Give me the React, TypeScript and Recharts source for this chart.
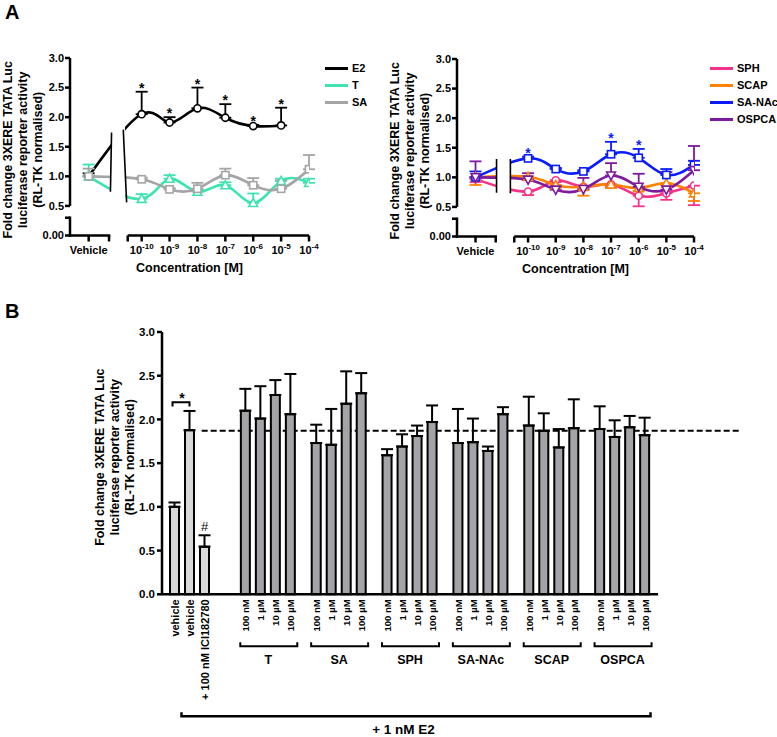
import React from "react";
import {
  ComposedChart,
  Line,
  XAxis,
  YAxis,
  ErrorBar,
  ReferenceLine,
  ReferenceArea,
  BarChart,
  Bar,
  Cell,
  LabelList,
} from "recharts";

const FONT = "'Liberation Sans', Arial, Helvetica, sans-serif";

// ---------- panel A: concentration-response (log10 M) ----------
const VEHICLE_X = -11.9; // vehicle sits left of the x-axis break
const EXPONENTS = [-10, -9, -8, -7, -6, -5, -4];

// index 0 = vehicle, then 1e-10 ... 1e-4 M
const e2Mean = [1.0, 2.05, 1.91, 2.15, 1.99, 1.85, 1.86, null];
const e2Sem = [0.05, 0.38, 0.09, 0.35, 0.23, 0.02, 0.3, null];
const e2Sig = [0, 1, 1, 1, 1, 1, 1, 0];

const tMean = [1.0, 0.62, 0.96, 0.74, 0.85, 0.55, 0.92, 0.89];
const tSem = [0.2, 0.08, 0.06, 0.03, 0.05, 0.16, 0.04, 0.07];

const saMean = [1.0, 0.95, 0.78, 0.79, 1.02, 0.85, 0.79, 1.12];
const saSem = [0.13, 0.03, 0.02, 0.1, 0.11, 0.12, 0.14, 0.24];

const sphMean = [0.97, 0.76, 0.95, 0.84, 0.88, 0.69, 0.73, 0.86];
const sphSem = [0.05, 0.06, 0.03, 0.05, 0.03, 0.18, 0.11, 0.33];

const scapMean = [1.0, 1.01, 0.87, 0.84, 0.88, 0.82, 0.9, 0.73];
const scapSem = [0.13, 0.02, 0.03, 0.15, 0.06, 0.05, 0.03, 0.13];

const sanacMean = [1.0, 1.32, 1.14, 1.1, 1.39, 1.33, 1.04, 1.21];
const sanacSem = [0.1, 0.03, 0.02, 0.02, 0.21, 0.15, 0.1, 0.07];
const sanacSig = [0, 1, 0, 0, 1, 1, 0, 0];

const ospcaMean = [1.0, 0.96, 0.79, 0.8, 1.03, 0.84, 0.79, 1.12];
const ospcaSem = [0.27, 0.11, 0.05, 0.19, 0.21, 0.22, 0.3, 0.41];

// ---------- panel B: bars ----------
const CONTROL_LABELS = ["vehicle", "vehicle", "+ 100 nM ICI182780"];
const controlMean = [1.0, 1.877, 0.545];
const controlSem = [0.05, 0.22, 0.13];

const GROUPS = ["T", "SA", "SPH", "SA-NAc", "SCAP", "OSPCA"];
const CONC_LABELS = ["100 nM", "1 µM", "10 µM", "100 µM"];
const bT = [2.1, 2.01, 2.28, 2.06];
const bTSem = [0.25, 0.37, 0.17, 0.46];
const bSA = [1.73, 1.71, 2.18, 2.3];
const bSASem = [0.21, 0.41, 0.37, 0.23];
const bSPH = [1.59, 1.69, 1.81, 1.97];
const bSPHSem = [0.07, 0.14, 0.12, 0.19];
const bSANAc = [1.73, 1.74, 1.64, 2.06];
const bSANAcSem = [0.39, 0.27, 0.05, 0.08];
const bSCAP = [1.93, 1.87, 1.68, 1.9];
const bSCAPSem = [0.33, 0.2, 0.21, 0.33];
const bOSPCA = [1.89, 1.8, 1.91, 1.82];
const bOSPCASem = [0.26, 0.19, 0.13, 0.2];
const E2_LEVEL = 1.87;

// ---------- layout constants ----------
const X_MIN = -12.57;
const BREAK_L = -11.17;
const BREAK_R = -10.5;
const BAR_SIZE = 9;
const BAR_GAP = 6;
const SLOT = BAR_SIZE + BAR_GAP;
const AXIS = { stroke: "#000", strokeWidth: 2.5 };

type Spec = {
  key: string;
  name: string;
  mean: (number | null)[];
  sem: (number | null)[];
  color: string;
  shape: "circle" | "square" | "up" | "down";
  down?: boolean;
  sig?: number[];
};

const leftSpecs: Spec[] = [
  { key: "e2", name: "E2", mean: e2Mean, sem: e2Sem, color: "#000000", shape: "circle", sig: e2Sig },
  { key: "t", name: "T", mean: tMean, sem: tSem, color: "#3fe3b2", shape: "up" },
  { key: "sa", name: "SA", mean: saMean, sem: saSem, color: "#a5a5a5", shape: "square" },
];

const rightSpecs: Spec[] = [
  { key: "sph", name: "SPH", mean: sphMean, sem: sphSem, color: "#f5318a", shape: "circle", down: true },
  { key: "scap", name: "SCAP", mean: scapMean, sem: scapSem, color: "#ff8200", shape: "up", down: true },
  { key: "sanac", name: "SA-NAc", mean: sanacMean, sem: sanacSem, color: "#0a1cff", shape: "square", sig: sanacSig },
  { key: "ospca", name: "OSPCA", mean: ospcaMean, sem: ospcaSem, color: "#7d1a9e", shape: "down" },
];

function buildRows(specs: Spec[]) {
  return [VEHICLE_X, ...EXPONENTS].map((x, i) => {
    const row: any = { x };
    specs.forEach((s) => {
      const m = s.mean[i];
      const e = s.sem[i];
      row[s.key] = m;
      row[s.key + "Err"] = m == null || e == null ? null : s.down ? [e, 0] : [0, e];
      if (s.sig) {
        row[s.key + "Star"] = s.sig[i] && m != null ? m + (e ?? 0) + 0.11 : null;
      }
    });
    return row;
  });
}

const leftRows = buildRows(leftSpecs);
const rightRows = buildRows(rightSpecs);

const bGroupMeans = [bT, bSA, bSPH, bSANAc, bSCAP, bOSPCA];
const bGroupSems = [bTSem, bSASem, bSPHSem, bSANAcSem, bSCAPSem, bOSPCASem];

const barRows = [
  { group: "control", vals: controlMean, sems: controlSem },
  ...GROUPS.map((g, i) => ({ group: g, vals: bGroupMeans[i], sems: bGroupSems[i] })),
].map((r) => {
  const row: any = { group: r.group };
  for (let j = 0; j < 4; j++) {
    const v = r.vals[j];
    row["v" + j] = v == null ? null : v;
    row["e" + j] = v == null ? null : [0, r.sems[j]];
  }
  return row;
});

// ---------- small renderers ----------
function Marker({ cx, cy, shape, color }: any) {
  const s = 3.6;
  const common = { fill: "#fff", stroke: color, strokeWidth: 1.6 };
  if (shape === "circle") return <circle cx={cx} cy={cy} r={s} {...common} />;
  if (shape === "square") return <rect x={cx - s} y={cy - s} width={2 * s} height={2 * s} {...common} />;
  if (shape === "up")
    return <polygon points={`${cx},${cy - s - 1} ${cx + s + 0.8},${cy + s} ${cx - s - 0.8},${cy + s}`} {...common} />;
  return <polygon points={`${cx},${cy + s + 1} ${cx + s + 0.8},${cy - s} ${cx - s - 0.8},${cy - s}`} {...common} />;
}

const makeDot = (shape: string, color: string) => (p: any) => {
  if (p.cx == null || p.cy == null || p.value == null) return <g key={`d${p.index}`} />;
  return <Marker key={`d${p.index}`} cx={p.cx} cy={p.cy} shape={shape} color={color} />;
};

const makeStar = (color: string) => (p: any) => {
  if (p.cx == null || p.cy == null || p.value == null) return <g key={`s${p.index}`} />;
  return (
    <text key={`s${p.index}`} x={p.cx} y={p.cy + 7.5} textAnchor="middle" fontSize={14} fontWeight="bold" fill={color} fontFamily={FONT}>
      *
    </text>
  );
};

function DoseTick({ x, y, payload }: any) {
  const v = payload.value;
  const style = { fontSize: 11, fontWeight: "bold" as const, fontFamily: FONT, fill: "#000" };
  if (v === VEHICLE_X)
    return (
      <text x={x} y={y + 10} textAnchor="middle" {...style}>
        Vehicle
      </text>
    );
  if (EXPONENTS.includes(v))
    return (
      <text x={x} y={y + 10} textAnchor="middle" {...style}>
        <tspan>10</tspan>
        <tspan dy={-5} fontSize={8}>
          {"-" + Math.abs(v)}
        </tspan>
      </text>
    );
  return <g />;
}

function ConcLabel({ viewBox }: any) {
  return (
    <text x={viewBox.x + viewBox.width / 2} y={viewBox.y + 36} textAnchor="middle" fontSize={12.5} fontWeight="bold" fontFamily={FONT}>
      Concentration [M]
    </text>
  );
}

function YTitle({ viewBox, dy = 0 }: any) {
  const lines = ["Fold change 3XERE TATA Luc", "luciferase reporter activity", "(RL-TK normalised)"];
  const cx = viewBox.x - 7;
  const cy = viewBox.y + viewBox.height / 2 + dy;
  return (
    <g>
      {lines.map((t, i) => {
        const lx = cx + (i - 1) * 15;
        return (
          <text
            key={i}
            x={lx}
            y={cy}
            transform={`rotate(-90 ${lx} ${cy})`}
            textAnchor="middle"
            dominantBaseline="central"
            fontSize={12.5}
            fontWeight="bold"
            fontFamily={FONT}
          >
            {t}
          </text>
        );
      })}
    </g>
  );
}

const yTickFmt = (v: number) => (v === 0 ? "0.00" : v === 0.3 ? "" : v.toFixed(1));

function DosePanel({ specs, rows, width, margin, breaks }: any) {
  const starSpec = specs.find((s: Spec) => s.sig);
  return (
    <ComposedChart width={width} height={290} data={rows} margin={margin}>
      <XAxis
        type="number"
        dataKey="x"
        domain={[X_MIN, -4]}
        allowDataOverflow
        ticks={[VEHICLE_X, BREAK_L, BREAK_R, ...EXPONENTS]}
        interval={0}
        axisLine={false}
        tickLine={AXIS}
        tickSize={6}
        tick={<DoseTick />}
        height={40}
        label={<ConcLabel />}
      />
      <YAxis
        type="number"
        domain={[0, 3]}
        allowDataOverflow
        ticks={[0, 0.3, 0.5, 1, 1.5, 2, 2.5, 3]}
        interval={0}
        tickFormatter={yTickFmt}
        axisLine={false}
        tickLine={AXIS}
        tickSize={5}
        tickMargin={1}
        width={40}
        tick={{ fontSize: 11, fontWeight: "bold", fontFamily: FONT, fill: "#000" }}
        label={<YTitle dy={3} />}
      />
      {specs.map((s: Spec) => (
        <Line
          key={s.key}
          type="natural"
          dataKey={s.key}
          stroke={s.color}
          strokeWidth={2.6}
          dot={makeDot(s.shape, s.color)}
          activeDot={false}
          isAnimationActive={false}
        >
          <ErrorBar dataKey={s.key + "Err"} width={6} stroke={s.color} strokeWidth={1.8} direction="y" />
        </Line>
      ))}
      {starSpec && (
        <Line
          dataKey={starSpec.key + "Star"}
          stroke="none"
          dot={makeStar(starSpec.color)}
          activeDot={false}
          isAnimationActive={false}
        />
      )}
      <ReferenceArea
        x1={breaks.gap[0]}
        x2={breaks.gap[1]}
        y1={0.05}
        y2={3}
        fill="#fff"
        fillOpacity={1}
        stroke="none"
        ifOverflow="visible"
        zIndex={1500}
      />
      {breaks.lines.map((seg: any, i: number) => (
        <ReferenceLine
          key={"b" + i}
          segment={[
            { x: seg[0][0], y: seg[0][1] },
            { x: seg[1][0], y: seg[1][1] },
          ]}
          stroke="#000"
          strokeWidth={1.6}
          ifOverflow="visible"
          zIndex={1600}
        />
      ))}
      <ReferenceLine segment={[{ x: X_MIN, y: 0 }, { x: BREAK_L, y: 0 }]} {...AXIS} strokeLinecap="square" ifOverflow="visible" />
      <ReferenceLine segment={[{ x: BREAK_R, y: 0 }, { x: -4, y: 0 }]} {...AXIS} ifOverflow="visible" />
      <ReferenceLine segment={[{ x: X_MIN, y: 0.5 }, { x: X_MIN, y: 3 }]} {...AXIS} ifOverflow="visible" />
      <ReferenceLine segment={[{ x: X_MIN, y: 0 }, { x: X_MIN, y: 0.3 }]} {...AXIS} strokeLinecap="square" ifOverflow="visible" />
    </ComposedChart>
  );
}

function LegendBox({ specs, left, top, rowH }: any) {
  return (
    <div style={{ position: "absolute", left, top, whiteSpace: "nowrap" }}>
      {specs.map((s: Spec) => (
        <div key={s.key} style={{ display: "flex", alignItems: "center", height: rowH }}>
          <div style={{ width: 23, height: 3, background: s.color }} />
          <span style={{ marginLeft: 4, fontSize: 11, fontWeight: "bold", fontFamily: FONT, lineHeight: 1 }}>{s.name}</span>
        </div>
      ))}
    </div>
  );
}

function BarTick({ x, y, payload, index }: any) {
  const isControl = index === 0;
  const labels = isControl ? CONTROL_LABELS : CONC_LABELS;
  const fs = isControl ? 11 : 9.5;
  return (
    <g>
      {labels.map((t, j) => {
        const bx = x + (j - 1.5) * SLOT;
        const ty = y + 5;
        return (
          <text
            key={j}
            x={bx}
            y={ty}
            transform={`rotate(-90 ${bx} ${ty})`}
            textAnchor="end"
            dominantBaseline="central"
            fontSize={fs}
            fontWeight="bold"
            fontFamily={FONT}
          >
            {t}
          </text>
        );
      })}
      {!isControl && (
        <g>
          <path d={`M${x - 28},${y + 48} V${y + 52} H${x + 29} V${y + 48}`} fill="none" stroke="#000" strokeWidth={2} />
          <text x={x} y={y + 70} textAnchor="middle" fontSize={12.5} fontWeight="bold" fontFamily={FONT}>
            {payload.value}
          </text>
        </g>
      )}
    </g>
  );
}

function E2Bracket({ viewBox }: any) {
  const x0 = viewBox.x + 19.5;
  const x1 = viewBox.x + viewBox.width - 7.5;
  const y = viewBox.y + 122;
  return (
    <g>
      <path d={`M${x0},${y - 4} V${y} H${x1} V${y - 4}`} fill="none" stroke="#000" strokeWidth={2.5} />
      <text x={viewBox.x + viewBox.width * 0.487} y={viewBox.y + 140} textAnchor="middle" fontSize={13.5} fontWeight="bold" fontFamily={FONT}>
        + 1 nM E2
      </text>
    </g>
  );
}

// significance bracket between vehicle and vehicle+E2 (drawn from the E2 bar geometry)
function SigBracket(p: any) {
  if (p.index !== 0 || p.value == null) return null;
  const k = p.height / p.value;
  const yAt = (v: number) => p.y + p.height - v * k;
  const cx = p.x + p.width / 2;
  const px = cx - SLOT;
  const top = controlMean[1] + controlSem[1] + 0.1;
  return (
    <g>
      <path d={`M${px - 2},${yAt(top - 0.05)} V${yAt(top)} H${cx} V${yAt(top - 0.05)}`} fill="none" stroke="#000" strokeWidth={2} />
      <text x={(px + cx) / 2} y={yAt(top + 0.08) + 7.5} textAnchor="middle" fontSize={14} fontWeight="bold" fontFamily={FONT}>
        *
      </text>
    </g>
  );
}

function HashMark(p: any) {
  if (p.index !== 0 || p.value == null) return null;
  const k = p.height / p.value;
  const yAt = (v: number) => p.y + p.height - v * k;
  return (
    <text x={p.x + p.width / 2} y={yAt(controlMean[2] + controlSem[2] + 0.1) + 4.5} textAnchor="middle" fontSize={13} fontFamily={FONT}>
      #
    </text>
  );
}

export default function App() {
  return (
    <div style={{ position: "absolute", left: 0, top: 0, width: 777, height: 737, background: "#fff", fontFamily: FONT }}>
      <div style={{ position: "absolute", left: 5, top: 1, fontSize: 20, fontWeight: "bold" }}>A</div>
      <div style={{ position: "absolute", left: 5, top: 300, fontSize: 20, fontWeight: "bold" }}>B</div>

      <div style={{ position: "absolute", left: 0, top: 0 }}>
        <DosePanel
          specs={leftSpecs}
          rows={leftRows}
          width={380}
          margin={{ top: 58, right: 71, bottom: 14.5, left: 30 }}
          breaks={{
            gap: [-11.1, -10.6],
            lines: [
              [[-11.08, 1.74], [-11.12, 0.74]],
              [[-10.66, 1.79], [-10.54, 0.56]],
            ],
          }}
        />
      </div>
      <LegendBox specs={leftSpecs} left={325} top={59.5} rowH={17} />

      <div style={{ position: "absolute", left: 380, top: 0 }}>
        <DosePanel
          specs={rightSpecs}
          rows={rightRows}
          width={397}
          margin={{ top: 59, right: 83, bottom: 13.5, left: 37 }}
          breaks={{
            gap: [-11.14, -10.64],
            lines: [
              [[-11.14, 1.31], [-11.14, 0.74]],
              [[-10.64, 1.31], [-10.64, 0.73]],
            ],
          }}
        />
      </div>
      <LegendBox specs={rightSpecs} left={710} top={60.6} rowH={16.7} />

      <div style={{ position: "absolute", left: 0, top: 290 }}>
        <BarChart
          width={777}
          height={447}
          data={barRows}
          margin={{ top: 42, right: 119, bottom: 2.7, left: 122 }}
          barSize={BAR_SIZE}
          barGap={BAR_GAP}
        >
          <XAxis
            dataKey="group"
            interval={0}
            axisLine={AXIS}
            tickLine={false}
            tickSize={0}
            tickMargin={0}
            height={140}
            tick={<BarTick />}
            label={<E2Bracket />}
          />
          <XAxis xAxisId="ref" type="number" domain={[0, 7]} allowDataOverflow hide />
          <YAxis
            type="number"
            domain={[0, 3]}
            ticks={[0, 0.5, 1, 1.5, 2, 2.5, 3]}
            interval={0}
            tickFormatter={(v: number) => v.toFixed(1)}
            axisLine={AXIS}
            tickLine={AXIS}
            tickSize={5}
            tickMargin={2}
            width={40}
            tick={{ fontSize: 11.5, fontWeight: "bold", fontFamily: FONT, fill: "#000" }}
            label={<YTitle dy={-6} />}
          />
          <ReferenceLine
            xAxisId="ref"
            segment={[
              { x: 0.48, y: E2_LEVEL },
              { x: 7, y: E2_LEVEL },
            ]}
            stroke="#000"
            strokeWidth={2}
            strokeDasharray="6 3"
            ifOverflow="visible"
            zIndex={50}
          />
          {[0, 1, 2, 3].map((j) => (
            <Bar key={j} dataKey={"v" + j} stroke="#000" strokeWidth={2} isAnimationActive={false}>
              {barRows.map((r, i) => (
                <Cell key={i} fill={i === 0 ? "#d8d8d8" : "#a3a3a8"} />
              ))}
              <ErrorBar dataKey={"e" + j} width={6} stroke="#000" strokeWidth={2} direction="y" />
              {j === 1 && <LabelList dataKey="v1" content={SigBracket} />}
              {j === 2 && <LabelList dataKey="v2" content={HashMark} />}
            </Bar>
          ))}
        </BarChart>
      </div>
    </div>
  );
}
